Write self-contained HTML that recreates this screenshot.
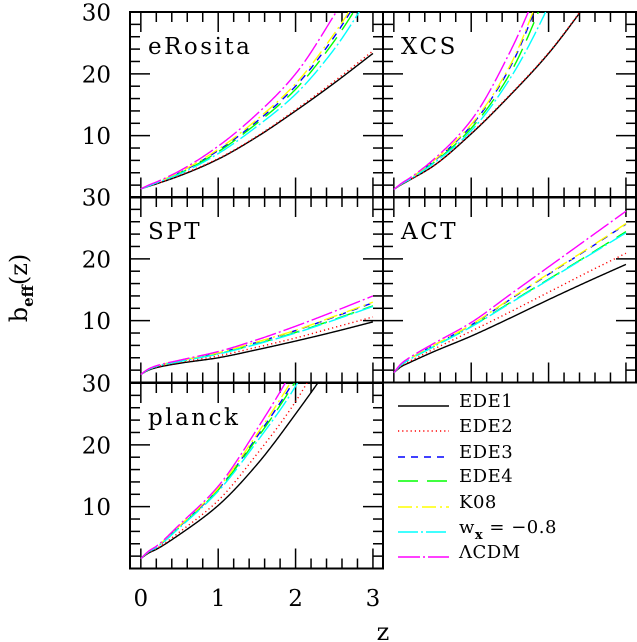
<!DOCTYPE html>
<html><head><meta charset="utf-8">
<style>
html,body{margin:0;padding:0;background:#fff;}
svg{display:block;}
text{font-family:"DejaVu Serif","Liberation Serif",serif;fill:#000;}
</style></head>
<body>
<svg id="chart" width="637" height="642" viewBox="0 0 637 642">
<g id="axes"></g>
<g id="curves"></g>
<g id="labels"></g>
<g id="legend"></g>
</svg>
<script>
const zGrid = [0, 0.1, 0.2, 0.5, 1, 1.5, 2, 2.5, 3];
const seriesNames = ["EDE1","EDE2","EDE3","EDE4","K08","w_x = -0.8","LCDM"];
const yTicks = [10, 20, 30];
const xTicks = [0, 1, 2, 3];

const eRosita = [
  [1.4,1.8,2.2,3.5,6.2,9.8,14.0,18.5,23.3],
  [1.4,1.8,2.2,3.6,6.3,9.9,14.2,18.8,23.7],
  [1.4,1.9,2.4,4.0,7.6,12.3,18.0,26.0,36],
  [1.4,1.9,2.4,3.9,7.4,12.0,17.5,25.3,35],
  [1.4,1.9,2.4,4.1,7.8,12.6,18.4,26.5,36],
  [1.4,1.85,2.35,3.8,7.1,11.5,16.7,24.0,33.5],
  [1.4,2.0,2.5,4.3,8.3,13.5,20.0,29.5,40]
];
const xcs = [
  [1.3,2.1,2.8,5.0,10.3,16.5,23.3,31.5,40],
  [1.3,2.1,2.8,5.0,10.4,16.6,23.4,31.6,40],
  [1.3,2.2,3.0,5.7,11.6,21,36,52,70],
  [1.3,2.2,3.0,5.5,11.2,20,34,50,68],
  [1.3,2.2,3.0,5.8,11.8,21.3,36.5,52,70],
  [1.3,2.2,2.9,5.4,10.8,19.2,31,46,64],
  [1.3,2.3,3.1,6.0,12.5,23.5,38,55,75]
];
const spt = [
  [1.3,2.0,2.4,3.1,4.0,5.3,6.7,8.2,9.8],
  [1.3,2.05,2.5,3.25,4.3,5.7,7.2,8.9,10.6],
  [1.3,2.15,2.65,3.5,4.75,6.5,8.4,10.6,12.9],
  [1.3,2.1,2.6,3.4,4.65,6.25,8.1,10.2,12.4],
  [1.3,2.15,2.65,3.5,4.8,6.55,8.45,10.7,13.0],
  [1.3,2.1,2.6,3.4,4.6,6.2,8.0,10.1,12.3],
  [1.3,2.2,2.7,3.6,5.0,6.9,9.1,11.5,14.0]
];
const act = [
  [1.6,2.6,3.2,4.9,7.5,10.4,13.4,16.3,19.1],
  [1.6,2.7,3.4,5.3,8.3,11.4,14.6,17.8,20.9],
  [1.6,3.0,3.8,5.9,9.3,13.4,17.5,21.5,25.6],
  [1.6,2.9,3.7,5.7,9.05,12.9,16.7,20.5,24.4],
  [1.6,3.0,3.8,5.9,9.35,13.5,17.6,21.6,25.7],
  [1.6,2.9,3.7,5.7,9.0,12.8,16.6,20.4,24.2],
  [1.6,3.1,4.0,6.2,9.7,14.2,18.7,23.2,27.7]
];
const planck = [
  [1.6,2.5,3.1,5.5,10.2,16.8,25,34,45],
  [1.6,2.6,3.2,5.9,11.0,18.5,27,38,50],
  [1.6,2.7,3.4,6.8,12.8,21.3,30.8,43,56],
  [1.6,2.7,3.4,6.7,12.7,21,30.3,42,55],
  [1.6,2.7,3.5,6.9,13.0,21.7,31.5,44,57],
  [1.6,2.7,3.4,6.6,12.5,20.5,29.5,42,55],
  [1.6,2.8,3.6,7.1,13.3,22.5,33,46,60]
];

const colors = ["#000","#ff0000","#0000ff","#00ff00","#ffff00","#00ffff","#ff00ff"];
const dashes = ["none","1.2 3","7 6","20 9","14 4 2 4","20 3 2 3","22 3 2 3"];

const NS = "http://www.w3.org/2000/svg";
function mk(tag, attrs, parent){ const e=document.createElementNS(NS,tag); for(const k in attrs) e.setAttribute(k,attrs[k]); parent.appendChild(e); return e; }

const panels = [
  {name:"eRosita", data:eRosita, x0:130, y0:12},
  {name:"XCS", data:xcs, x0:383, y0:12},
  {name:"SPT", data:spt, x0:130, y0:197},
  {name:"ACT", data:act, x0:383, y0:197},
  {name:"planck", data:planck, x0:130, y0:383}
];
const PW=253, PH=185.5, ZMIN=-0.14, ZMAX=3.13, VMIN=0, VMAX=30;
function xs(p,z){ return p.x0 + (z-ZMIN)/(ZMAX-ZMIN)*PW; }
function ys(p,v){ return p.y0 + PH - (v-VMIN)/(VMAX-VMIN)*PH; }

// monotone cubic (Fritsch-Carlson)
function monoSlopes(xv, yv){
  const n=xv.length, d=[], m=new Array(n);
  for(let i=0;i<n-1;i++) d.push((yv[i+1]-yv[i])/(xv[i+1]-xv[i]));
  m[0]=d[0]; m[n-1]=d[n-2];
  for(let i=1;i<n-1;i++){
    if(d[i-1]*d[i]<=0) m[i]=0;
    else { const w1=2*(xv[i+1]-xv[i])+(xv[i]-xv[i-1]), w2=(xv[i+1]-xv[i])+2*(xv[i]-xv[i-1]); m[i]=(w1+w2)/(w1/d[i-1]+w2/d[i]); }
  }
  return m;
}
function interp(vals, m, z){
  let i=0; while(i<zGrid.length-2 && z>zGrid[i+1]) i++;
  const h=zGrid[i+1]-zGrid[i], t=(z-zGrid[i])/h, t2=t*t, t3=t2*t;
  return (2*t3-3*t2+1)*vals[i]+(t3-2*t2+t)*h*m[i]+(-2*t3+3*t2)*vals[i+1]+(t3-t2)*h*m[i+1];
}

const axes=document.getElementById('axes');
const curves=document.getElementById('curves');
const labels=document.getElementById('labels');
const defs=mk('defs',{},document.getElementById('chart'));

panels.forEach((p,pi)=>{
  const cp=mk('clipPath',{id:'clip'+pi},defs);
  mk('rect',{x:p.x0,y:p.y0,width:PW,height:PH},cp);
  const g=mk('g',{'clip-path':'url(#clip'+pi+')'},curves);
  
  
  p.data.forEach((vals,si)=>{
    const m=monoSlopes(zGrid, vals);
    let pts=[];
    const z0=zGrid[0], z1=zGrid[zGrid.length-1];
    for(let k=0;k<=300;k++){ const z=z0+k*(z1-z0)/300; pts.push(xs(p,z).toFixed(2)+','+ys(p,interp(vals,m,z)).toFixed(2)); }
    const pl=mk('polyline',{points:pts.join(' '),fill:'none',stroke:colors[si],'stroke-width':1.4,'stroke-dasharray':dashes[si]},g);
    
    
  });
  const fr=mk('rect',{x:p.x0,y:p.y0,width:PW,height:PH,fill:'none',stroke:'#000','stroke-width':2},axes);
  
  
  const tg=mk('g',{stroke:'#000','stroke-width':1.5},axes);
  
  
  for(let k=0;k<=15;k++){ const z=k*0.2; const X=xs(p,z); const L=(k%5===0)?20:10;
    mk('line',{x1:X,y1:p.y0+PH,x2:X,y2:p.y0+PH-L},tg);
    mk('line',{x1:X,y1:p.y0,x2:X,y2:p.y0+L},tg); }
  for(let v=2;v<30;v+=2){ const Y=ys(p,v); const L=(v%10===0)?20:10;
    mk('line',{x1:p.x0,y1:Y,x2:p.x0+L,y2:Y},tg);
    mk('line',{x1:p.x0+PW,y1:Y,x2:p.x0+PW-L,y2:Y},tg); }
  const t=mk('text',{x:p.x0+18,y:p.y0+42,'font-size':23,'letter-spacing':2.5},labels);
  t.textContent=p.name;
  
  
  if(p.x0===130){
    yTicks.forEach(v=>{
      const tl=mk('text',{x:111,y:ys(p,v)+8.5,'font-size':23,'text-anchor':'end'},labels);
      tl.textContent=v;
      
      
    });
  }
});
const pl=panels[4];
xTicks.forEach(z=>{
  const tl=mk('text',{x:xs(pl,z),y:606,'font-size':23,'text-anchor':'middle'},labels);
  tl.textContent=z;
  
  
});
const lb=mk('line',{x1:383,y1:383,x2:383,y2:568,stroke:'#000','stroke-width':2},axes);



const legend=document.getElementById('legend');
const legendLabels=["EDE1","EDE2","EDE3","EDE4","K08",null,"\u039bCDM"];
const lineY=[406,431,457,481,507,532,557];
legendLabels.forEach((lab,i)=>{
  const g=mk('g',{},legend);
  
  
  mk('line',{x1:398,y1:lineY[i],x2:449,y2:lineY[i],stroke:colors[i],'stroke-width':1.4,'stroke-dasharray':dashes[i]},g);
  const t=mk('text',{x:459,y:lineY[i]+1,'font-size':18,'letter-spacing':0.5},g);
  if(lab){ t.textContent=lab; }
  else { t.setAttribute('xml:space','preserve'); t.innerHTML='w<tspan dy="6" font-size="13" font-weight="bold">x</tspan><tspan dy="-6">  =  \u22120.8</tspan>'; }
});

const svg=document.getElementById('chart');
const zl=mk('text',{x:383,y:640,'font-size':24,'text-anchor':'middle'},svg);
zl.textContent='z';


const yl=mk('text',{transform:'translate(27,288) rotate(-90)','font-size':24,'text-anchor':'middle'},svg);
yl.innerHTML='b<tspan dy="6" font-size="15" font-weight="bold">eff</tspan><tspan dy="-6">(z)</tspan>';


</script>
</body></html>
